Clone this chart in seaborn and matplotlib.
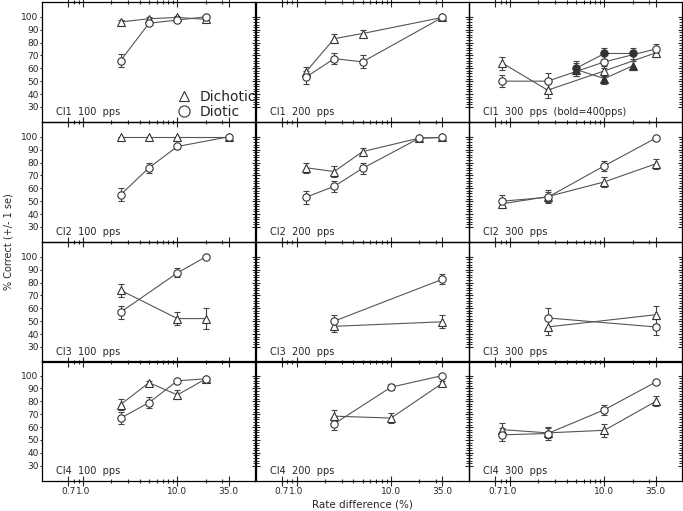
import matplotlib
matplotlib.use('Agg')

import matplotlib.pyplot as plt
import seaborn as sns
import pandas as pd
from matplotlib.lines import Line2D

# ---- data (rate difference %, % correct, +/- 1 se) ----
ci1_100_x = [2.5, 5, 10, 20]
ci1_100_dich = [96, 98.5, 99.5, 98]
ci1_100_dich_se = [1.5, 1.5, 1, 1.5]
ci1_100_diot = [66, 95, 97.5, 100]
ci1_100_diot_se = [5, 1.5, 1.5, 1]

ci1_200_x = [1.25, 2.5, 5, 35]
ci1_200_dich = [57, 83, 87, 99.5]
ci1_200_dich_se = [4, 3.5, 3, 1]
ci1_200_diot = [53, 67.5, 65, 99.5]
ci1_200_diot_se = [5, 4.5, 5, 1]

ci1_300_x = [0.83, 2.5, 10, 35]
ci1_300_dich = [64, 43, 58, 72]
ci1_300_dich_se = [5, 6, 4, 3]
ci1_300_diot = [50, 50, 65, 75]
ci1_300_diot_se = [4.5, 6, 5, 3.5]
ci1_400_x = [5, 10, 20]
ci1_400_dich = [59, 52, 62]
ci1_400_dich_se = [5, 4, 3.5]
ci1_400_diot = [60, 71.5, 71.5]
ci1_400_diot_se = [6, 4, 4]

ci2_100_x = [2.5, 5, 10, 35]
ci2_100_dich = [100, 100, 100, 100]
ci2_100_dich_se = [0, 0, 0, 0]
ci2_100_diot = [55, 76, 92.5, 100]
ci2_100_diot_se = [5, 4, 2, 1]

ci2_200_x = [1.25, 2.5, 5, 20, 35]
ci2_200_dich = [76, 73, 88.5, 99, 99.5]
ci2_200_dich_se = [4, 4, 3, 1, 1]
ci2_200_diot = [53, 61.5, 75.5, 99, 99.5]
ci2_200_diot_se = [5, 4.5, 4.5, 1, 1]

ci2_300_x = [0.83, 2.5, 10, 35]
ci2_300_dich = [48, 53.5, 65, 79]
ci2_300_dich_se = [3, 5, 4, 4]
ci2_300_diot = [50, 53, 77.5, 99]
ci2_300_diot_se = [4.5, 4, 4, 1]

ci3_100_x = [2.5, 10, 20]
ci3_100_dich = [74, 52, 52]
ci3_100_dich_se = [5, 5, 8]
ci3_100_diot = [57, 87.5, 100]
ci3_100_diot_se = [5, 3.5, 1]

ci3_200_x = [2.5, 35]
ci3_200_dich = [46, 49.5]
ci3_200_dich_se = [4.5, 5]
ci3_200_diot = [50, 82.5]
ci3_200_diot_se = [5, 4]

ci3_300_x = [2.5, 35]
ci3_300_dich = [45.5, 55]
ci3_300_dich_se = [6, 7]
ci3_300_diot = [52.5, 45.5]
ci3_300_diot_se = [7.5, 6]

ci4_100_x = [2.5, 5, 10, 20]
ci4_100_dich = [77.5, 94.5, 85, 97.5]
ci4_100_dich_se = [4.5, 1, 3.5, 1]
ci4_100_diot = [67, 79, 96, 97.5]
ci4_100_diot_se = [4.5, 4, 1, 1]

ci4_200_x = [2.5, 10, 35]
ci4_200_dich = [68.5, 67, 94]
ci4_200_dich_se = [5, 4, 2]
ci4_200_diot = [62.5, 91, 100]
ci4_200_diot_se = [5, 2.5, 1]

ci4_300_x = [0.83, 2.5, 10, 35]
ci4_300_dich = [58, 55.5, 57.5, 80]
ci4_300_dich_se = [5, 4, 5, 4]
ci4_300_diot = [54, 55, 73.5, 95]
ci4_300_diot_se = [5, 5, 4, 1]

panel_labels = [
    ["CI1  100  pps", "CI1  200  pps", "CI1  300  pps  (bold=400pps)"],
    ["CI2  100  pps", "CI2  200  pps", "CI2  300  pps"],
    ["CI3  100  pps", "CI3  200  pps", "CI3  300  pps"],
    ["CI4  100  pps", "CI4  200  pps", "CI4  300  pps"],
]
x_major = [0.7, 1, 10, 35]
x_major_labels = ["0.7", "1.0", "10.0", "35.0"]
x_minor = [0.8, 0.9, 2, 3, 4, 5, 6, 7, 8, 9, 20, 30]
y_major = list(range(30, 101, 10))
y_minor = [v for v in range(30, 101, 2) if v % 10]

panels = [
    [(ci1_100_x, ci1_100_dich, ci1_100_dich_se, ci1_100_diot, ci1_100_diot_se),
     (ci1_200_x, ci1_200_dich, ci1_200_dich_se, ci1_200_diot, ci1_200_diot_se),
     (ci1_300_x, ci1_300_dich, ci1_300_dich_se, ci1_300_diot, ci1_300_diot_se)],
    [(ci2_100_x, ci2_100_dich, ci2_100_dich_se, ci2_100_diot, ci2_100_diot_se),
     (ci2_200_x, ci2_200_dich, ci2_200_dich_se, ci2_200_diot, ci2_200_diot_se),
     (ci2_300_x, ci2_300_dich, ci2_300_dich_se, ci2_300_diot, ci2_300_diot_se)],
    [(ci3_100_x, ci3_100_dich, ci3_100_dich_se, ci3_100_diot, ci3_100_diot_se),
     (ci3_200_x, ci3_200_dich, ci3_200_dich_se, ci3_200_diot, ci3_200_diot_se),
     (ci3_300_x, ci3_300_dich, ci3_300_dich_se, ci3_300_diot, ci3_300_diot_se)],
    [(ci4_100_x, ci4_100_dich, ci4_100_dich_se, ci4_100_diot, ci4_100_diot_se),
     (ci4_200_x, ci4_200_dich, ci4_200_dich_se, ci4_200_diot, ci4_200_diot_se),
     (ci4_300_x, ci4_300_dich, ci4_300_dich_se, ci4_300_diot, ci4_300_diot_se)],
]

sns.set_style("ticks")
plt.rcParams['font.family'] = ['DejaVu Sans']

LINE = '#555555'
EDGE = '#333333'


def draw_series(ax, x, y, se, marker, filled=False):
    ax.errorbar(x, y, yerr=se, fmt='none', ecolor='#444444', elinewidth=0.8,
                capsize=2.5, capthick=0.8, zorder=1)
    df = pd.DataFrame({'x': x, 'y': y})
    sns.lineplot(data=df, x='x', y='y', ax=ax, color=LINE, linewidth=0.8,
                 marker=marker, markersize=5.3,
                 markerfacecolor=EDGE if filled else 'white',
                 markeredgecolor=EDGE, markeredgewidth=0.8,
                 sort=False, estimator=None, zorder=2)


W, H = 683, 511
fig = plt.figure(figsize=(W / 100, H / 100), dpi=100)
lefts = [42, 255.5, 469]
bottoms = [121.7, 241.7, 361.7, 480.5]
pw, ph = 213.3, 119.7

for r in range(4):
    for c in range(3):
        ax = fig.add_axes([lefts[c] / W, 1 - bottoms[r] / H, pw / W, ph / H])
        ax.patch.set_visible(False)
        x, dich, dich_se, diot, diot_se = panels[r][c]
        draw_series(ax, x, dich, dich_se, '^')
        draw_series(ax, x, diot, diot_se, 'o')
        if r == 0 and c == 2:
            draw_series(ax, ci1_400_x, ci1_400_dich, ci1_400_dich_se, '^', filled=True)
            draw_series(ax, ci1_400_x, ci1_400_diot, ci1_400_diot_se, 'o', filled=True)

        ax.set_xscale('log')
        ax.set_xlim(0.367, 66.8)
        ax.set_ylim(18.5, 111.5)
        ax.set_xlabel('')
        ax.set_ylabel('')
        for sp in ax.spines.values():
            sp.set_visible(True)
            sp.set_linewidth(0.9)
            sp.set_color('black')

        ax.set_xticks(x_major)
        ax.set_xticks(x_minor, minor=True)
        if r == 3:
            ax.set_xticklabels(x_major_labels)
        else:
            ax.set_xticklabels([])
        ax.set_xticklabels([], minor=True)
        ax.tick_params(axis='x', which='major', direction='inout', length=7,
                       width=0.8, labelsize=6.5, pad=1, top=(r == 0))
        ax.tick_params(axis='x', which='minor', direction='inout', length=3.5,
                       width=0.8, top=(r == 0))

        ax.set_yticks(y_major)
        if c == 0:
            ax.set_yticklabels([str(v) for v in y_major])
            ax.tick_params(axis='y', which='major', direction='out', length=1.5,
                           width=0.8, labelsize=6.5, pad=1)
        else:
            ax.set_yticks(y_minor, minor=True)
            ax.set_yticklabels([])
            ax.tick_params(axis='y', which='major', direction='inout', length=6,
                           width=0.8, right=(c == 2))
            ax.tick_params(axis='y', which='minor', direction='inout', length=4.5,
                           width=0.7, right=(c == 2))

        ax.text(0.066, 0.055, panel_labels[r][c], transform=ax.transAxes,
                fontsize=7, va='baseline', ha='left')

handles = [
    Line2D([], [], marker='^', ls='none', mfc='white', mec=EDGE, mew=0.8, ms=7.5),
    Line2D([], [], marker='o', ls='none', mfc='white', mec=EDGE, mew=0.8, ms=8),
]
fig.legend(handles=handles, labels=['Dichotic', 'Diotic'], loc='upper left',
           bbox_to_anchor=(176 / W, 1 - 90 / H), frameon=False, fontsize=10,
           handletextpad=0.5, labelspacing=0.05, borderpad=0, borderaxespad=0,
           handlelength=1.2)

fig.text((42 + 640 / 2) / W, 0.012, 'Rate difference (%)', ha='center',
         va='center', fontsize=7.5)
fig.text(9 / W, 1 - 241.7 / H, '% Correct (+/- 1 se)', ha='center',
         va='center', rotation=90, fontsize=7)

fig.savefig('out.png', dpi=100)
